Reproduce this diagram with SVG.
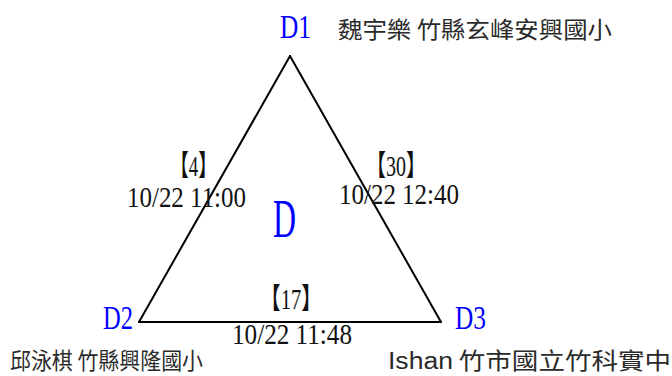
<svg xmlns="http://www.w3.org/2000/svg" width="672" height="376" viewBox="0 0 672 376">
<style>
.v{font-family:"Liberation Serif","Noto Serif",serif;fill:#0000ff}
.lab{font-family:"Liberation Serif","Noto Sans CJK TC",serif;fill:#111;font-size:29px}
.nm{font-family:"Noto Sans CJK TC","Liberation Sans",sans-serif;fill:#2a2a2a;font-size:23px}
.en{font-family:"Liberation Sans","Noto Sans CJK TC",sans-serif}
.edge{stroke:#000;stroke-width:2;fill:none;stroke-linecap:round}
</style>
<rect width="672" height="376" fill="#fff"/>
<g id="connectors">
<line class="edge" x1="290" y1="56" x2="139" y2="322"/>
<line class="edge" x1="290" y1="56" x2="441" y2="322"/>
<line class="edge" x1="139" y1="322" x2="441" y2="322"/>
<text class="lab" x="170" y="176" textLength="47" lengthAdjust="spacingAndGlyphs">【4】</text>
<text class="lab" x="127" y="207" textLength="119" lengthAdjust="spacingAndGlyphs">10/22 11:00</text>
<text class="lab" x="366" y="176" textLength="60" lengthAdjust="spacingAndGlyphs">【30】</text>
<text class="lab" x="339" y="204" textLength="120" lengthAdjust="spacingAndGlyphs">10/22 12:40</text>
<text class="lab" x="260" y="309" textLength="62" lengthAdjust="spacingAndGlyphs">【17】</text>
<text class="lab" x="232" y="344" textLength="120" lengthAdjust="spacingAndGlyphs">10/22 11:48</text>
</g>
<g id="D">
<text class="v" x="273" y="237" font-size="54" textLength="23" lengthAdjust="spacingAndGlyphs">D</text>
</g>
<g id="D1">
<text class="v" x="280" y="38" font-size="33" textLength="31" lengthAdjust="spacingAndGlyphs">D1</text>
<text class="nm" x="338" y="38" textLength="274" lengthAdjust="spacingAndGlyphs">魏宇樂 竹縣玄峰安興國小</text>
</g>
<g id="D2">
<text class="v" x="103" y="329" font-size="33" textLength="30" lengthAdjust="spacingAndGlyphs">D2</text>
<text class="nm" x="10" y="369" textLength="193" lengthAdjust="spacingAndGlyphs">邱泳棋 竹縣興隆國小</text>
</g>
<g id="D3">
<text class="v" x="455" y="329" font-size="33" textLength="31" lengthAdjust="spacingAndGlyphs">D3</text>
<text class="nm" x="388" y="369" textLength="283" lengthAdjust="spacingAndGlyphs"><tspan class="en">Ishan</tspan> 竹市國立竹科實中</text>
</g>
</svg>
